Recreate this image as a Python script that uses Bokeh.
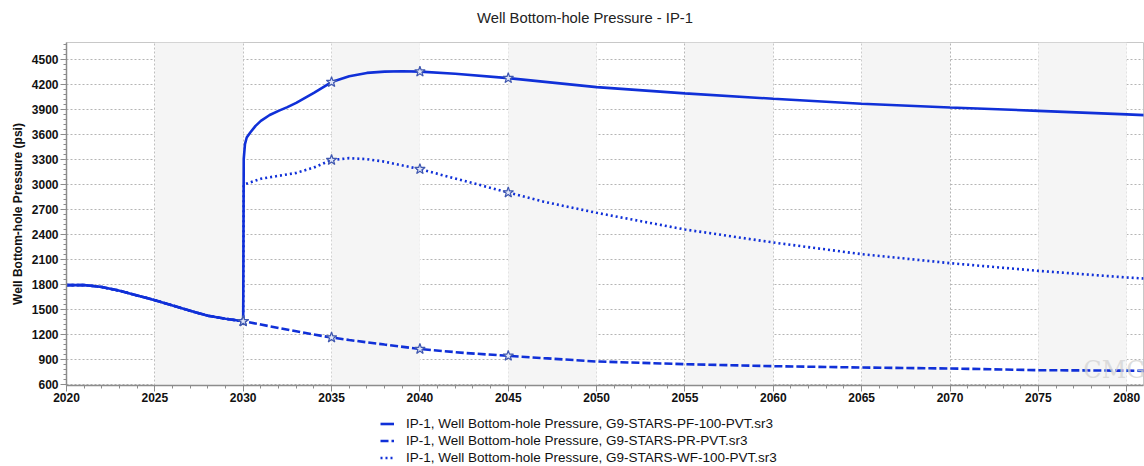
import numpy as np
from bokeh.plotting import figure
from bokeh.layouts import column
from bokeh.models import (Range1d, SingleIntervalTicker, BoxAnnotation, Legend,
                          LegendItem, BasicTickFormatter, Label)
from bokeh.embed import file_html
from bokeh.resources import INLINE

# Shared history (all three cases follow the same path until 2030)
hist_years = [2020, 2021, 2021.5, 2022, 2023, 2024, 2025, 2026, 2027, 2028, 2029, 2030]
hist_bhp = [1788, 1788, 1778, 1765, 1722, 1665, 1608, 1545, 1480, 1422, 1385, 1355]

# G9-STARS-PF-100-PVT forecast
pf_years = [2030.03, 2030.1, 2030.2, 2030.4, 2030.7, 2031, 2031.5, 2032, 2032.5, 2033,
            2034, 2035, 2036, 2037, 2038, 2039, 2040, 2042, 2045, 2050, 2055, 2060,
            2065, 2070, 2075, 2080, 2081]
pf_bhp = [3300, 3480, 3560, 3620, 3700, 3760, 3830, 3880, 3925, 3975,
          4095, 4225, 4295, 4335, 4350, 4355, 4350, 4325, 4272, 4165, 4090, 4025,
          3965, 3920, 3880, 3838, 3828]

# G9-STARS-PR-PVT forecast
pr_years = [2031, 2032, 2033, 2034, 2035, 2036, 2038, 2040, 2042.5, 2045, 2047, 2050,
            2055, 2060, 2065, 2070, 2075, 2080, 2081]
pr_bhp = [1315, 1275, 1235, 1195, 1160, 1130, 1075, 1022, 975, 940, 912, 872,
          840, 816, 800, 788, 768, 762, 760]

# G9-STARS-WF-100-PVT forecast
wf_years = [2030.03, 2030.1, 2031, 2032, 2033, 2034, 2035, 2036, 2037, 2038, 2040,
            2042.5, 2045, 2047, 2050, 2055, 2060, 2065, 2070, 2075, 2080, 2081]
wf_bhp = [2990, 3000, 3065, 3100, 3135, 3200, 3290, 3312, 3300, 3270, 3180,
          3040, 2900, 2790, 2656, 2456, 2300, 2160, 2052, 1960, 1880, 1868]

marker_years = [2030, 2035, 2040, 2045]

chart_title = "Well Bottom-hole Pressure - IP-1"
series_labels = [
    "IP-1, Well Bottom-hole Pressure, G9-STARS-PF-100-PVT.sr3",
    "IP-1, Well Bottom-hole Pressure, G9-STARS-PR-PVT.sr3",
    "IP-1, Well Bottom-hole Pressure, G9-STARS-WF-100-PVT.sr3",
]

FONT = "Liberation Sans"
BLUE = "#1030d8"
dashes = ["solid", "8 3", "2 3"]


def strip(height):
    """Blank full-width band (no axes) used for the title and the legend."""
    f = figure(width=1144, height=height, output_backend="svg", toolbar_location=None,
               x_range=Range1d(0, 1), y_range=Range1d(0, 1),
               x_axis_location=None, y_axis_location=None,
               min_border_left=0, min_border_right=0, min_border_top=0,
               min_border_bottom=0, outline_line_color=None,
               background_fill_color="white", border_fill_color="white")
    f.grid.visible = False
    return f


# title band
ttl = strip(42)
ttl.add_layout(Label(x=0.4814, y=0.595, text=chart_title, text_font=FONT,
                     text_font_size="14.8px", text_color="#222222",
                     text_align="center", text_baseline="middle"))

p = figure(width=1144, height=373, output_backend="svg", toolbar_location=None,
           x_range=Range1d(2020, 2080.95), y_range=Range1d(584, 4700),
           min_border_left=66, min_border_right=1, min_border_top=0,
           min_border_bottom=30, background_fill_color="white",
           border_fill_color="white", outline_line_color="#c8c8c8")

# alternating shaded year bands
for start in range(2025, 2081, 10):
    p.add_layout(BoxAnnotation(left=start, right=start + 5, fill_color="#f5f5f5",
                               fill_alpha=1.0, line_alpha=0, level="underlay"))

p.xaxis.ticker = SingleIntervalTicker(interval=5, num_minor_ticks=5)
p.yaxis.ticker = SingleIntervalTicker(interval=300, num_minor_ticks=5)
p.yaxis.formatter = BasicTickFormatter(use_scientific=False)
p.xaxis.formatter = BasicTickFormatter(use_scientific=False)

for ax in (p.xaxis, p.yaxis):
    ax.axis_line_color = "#8c8c8c"
    ax.axis_line_width = 1.5
    ax.major_tick_line_color = "#8c8c8c"
    ax.minor_tick_line_color = "#8c8c8c"
    ax.major_tick_out = 6
    ax.major_tick_in = 0
    ax.minor_tick_out = 3
    ax.minor_tick_in = 0
    ax.major_label_text_font = FONT
    ax.major_label_text_font_size = "12px"
    ax.major_label_text_font_style = "bold"
    ax.major_label_text_color = "#111111"

p.xaxis.major_label_standoff = 1
p.yaxis.major_label_standoff = 2
p.yaxis.axis_label = "Well Bottom-hole Pressure (psi)"
p.yaxis.axis_label_text_font = FONT
p.yaxis.axis_label_text_font_size = "12px"
p.yaxis.axis_label_text_font_style = "bold"
p.yaxis.axis_label_text_color = "#111111"
p.yaxis.axis_label_standoff = 4

p.grid.grid_line_color = "#b4b4b4"
p.grid.grid_line_dash = "2 2"
p.grid.grid_line_width = 1

forecasts = [(pf_years, pf_bhp), (pr_years, pr_bhp), (wf_years, wf_bhp)]
series_xy = []
for (fy, fb) in forecasts:
    series_xy.append((list(hist_years) + list(fy), list(hist_bhp) + list(fb)))

for (xs, ys), dash in zip(series_xy, dashes):
    p.line(xs, ys, line_color=BLUE, line_width=2.6, line_dash=dash)

# star markers at the report dates
for xs, ys in series_xy:
    mx = [x for x in xs if x in marker_years]
    my = [y for x, y in zip(xs, ys) if x in marker_years]
    p.scatter(mx, my, marker="star", size=11, fill_color="#dfe5f7",
              line_color="#4058b0", line_width=1.2)

p.add_layout(Label(x=2079.3, y=770, text="CMG", text_font="DejaVu Serif",
                   text_font_size="24px", text_color="#d4d4d4", text_align="center",
                   text_baseline="middle", text_alpha=0.8))

# legend band under the chart; its lines carry the same series but lie
# outside this band's tiny range, so only the legend swatches show
leg = strip(51)
items = []
for (xs, ys), dash, label in zip(series_xy, dashes, series_labels):
    r = leg.line(xs, ys, line_color=BLUE, line_width=2.6, line_dash=dash)
    items.append(LegendItem(label=label, renderers=[r]))

legend = Legend(items=items, location=(314, 0), orientation="vertical",
                padding=0, spacing=0, margin=0, label_height=17, glyph_height=17,
                glyph_width=14, label_standoff=12, label_text_font=FONT,
                label_text_font_size="13.5px", label_text_color="#111111",
                border_line_alpha=0, background_fill_alpha=0)
leg.add_layout(legend, "center")

layout = column(ttl, p, leg, spacing=0)
open("out.html", "w").write(file_html(layout, INLINE))
